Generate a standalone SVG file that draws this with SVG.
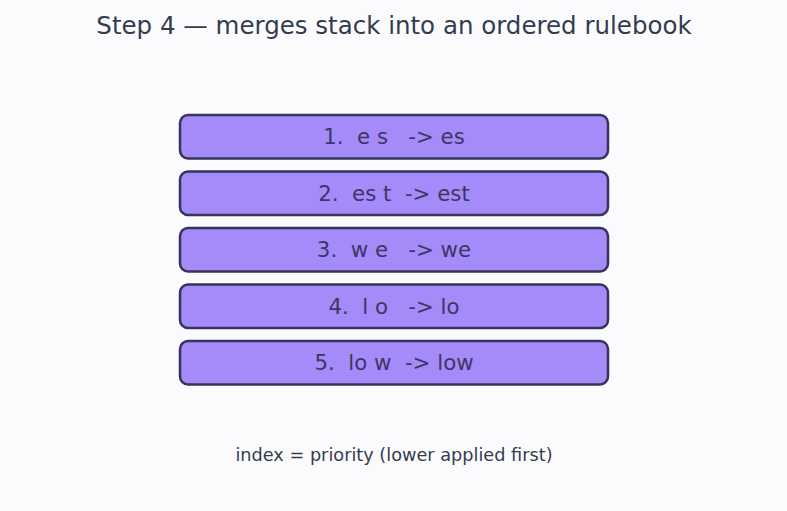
<svg xmlns="http://www.w3.org/2000/svg" width="787" height="511" viewBox="0 0 787 511">
<style>
.bg{fill:#fbfbfe}
.box{fill:#a58bfa;stroke:#36345a;stroke-width:2.5}
.lbl{font-family:"DejaVu Sans",sans-serif;font-size:21.3px;fill:#3c3764;text-anchor:middle;white-space:pre}
.title{font-family:"DejaVu Sans",sans-serif;font-size:24.5px;fill:#333d4f;text-anchor:middle}
.note{font-family:"DejaVu Sans",sans-serif;font-size:17.7px;fill:#333d4f;text-anchor:middle}
</style>
<rect class="bg" x="0" y="0" width="787" height="511"/>
<text class="title" x="394" y="34">Step 4 — merges stack into an ordered rulebook</text>
<g id="rule1"><rect class="box" x="180" y="115" width="428" height="43.5" rx="8"/><text class="lbl" x="394" y="144" xml:space="preserve">1.  e s   -&gt; es</text></g>
<g id="rule2"><rect class="box" x="180" y="171.5" width="428" height="43.5" rx="8"/><text class="lbl" x="394" y="200.5" xml:space="preserve">2.  es t  -&gt; est</text></g>
<g id="rule3"><rect class="box" x="180" y="228" width="428" height="43.5" rx="8"/><text class="lbl" x="394" y="257" xml:space="preserve">3.  w e   -&gt; we</text></g>
<g id="rule4"><rect class="box" x="180" y="284.5" width="428" height="43.5" rx="8"/><text class="lbl" x="394" y="313.5" xml:space="preserve">4.  l o   -&gt; lo</text></g>
<g id="rule5"><rect class="box" x="180" y="341" width="428" height="43.5" rx="8"/><text class="lbl" x="394" y="370" xml:space="preserve">5.  lo w  -&gt; low</text></g>
<g id="connectors"/>
<text class="note" x="394" y="461">index = priority (lower applied first)</text>
</svg>
